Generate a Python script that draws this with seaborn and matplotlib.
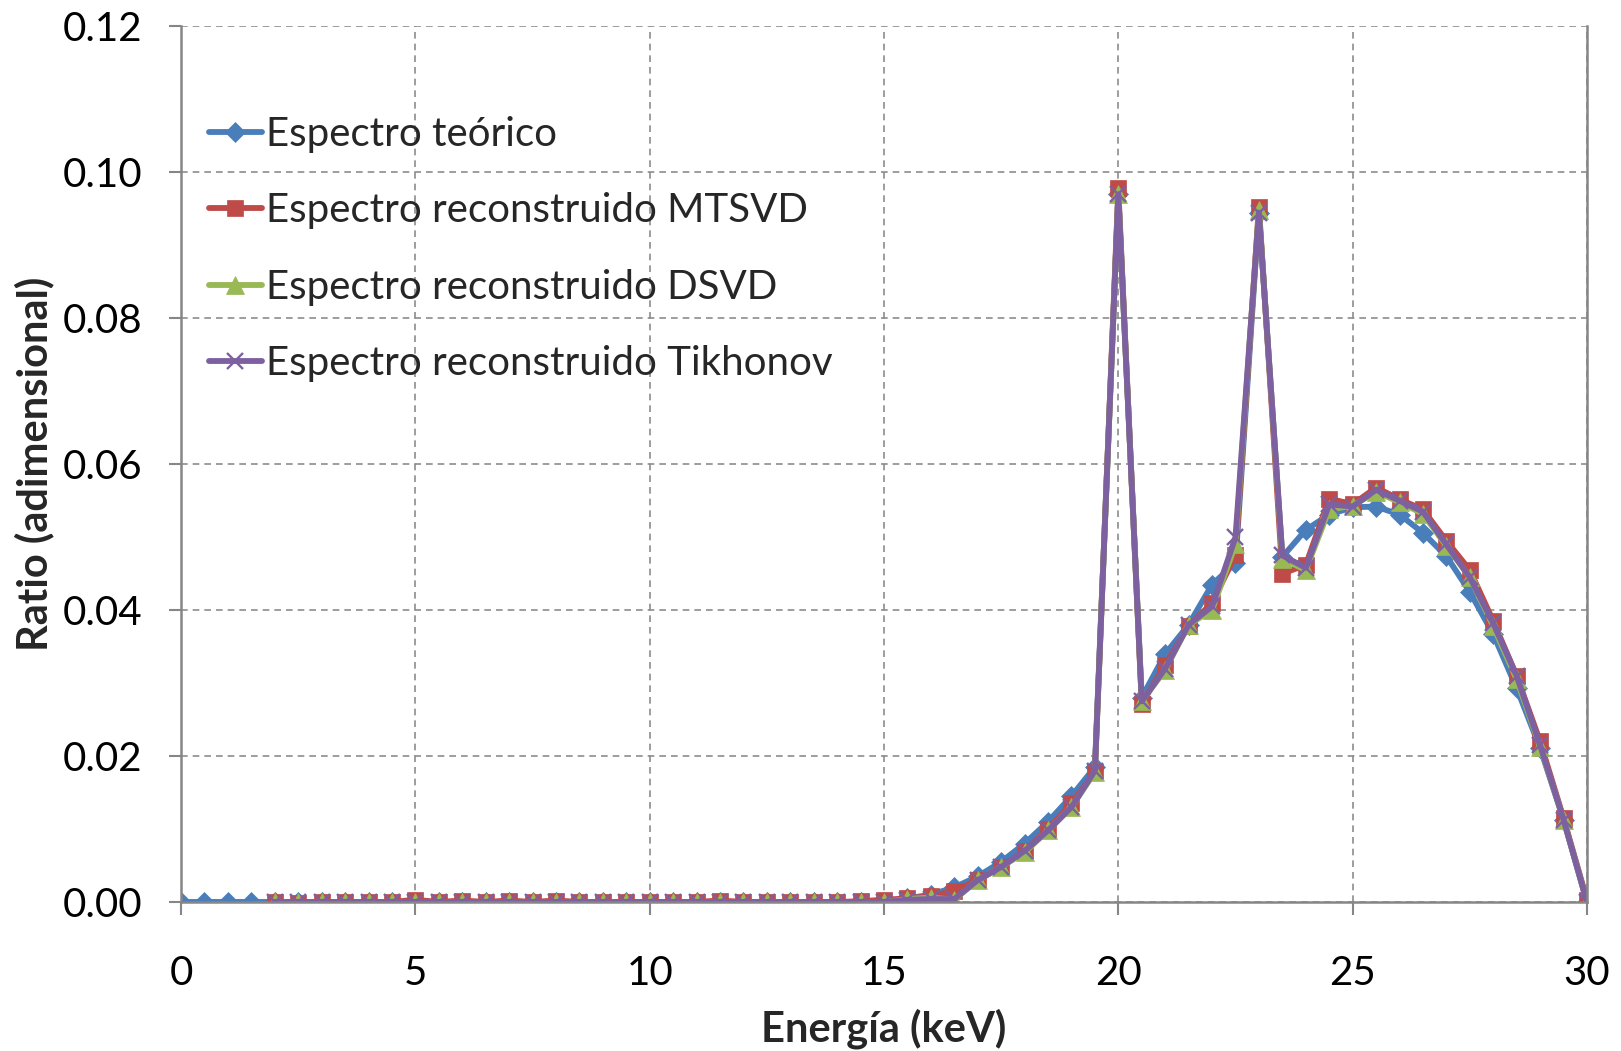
import numpy as np
import pandas as pd
import matplotlib
matplotlib.use("Agg")
import matplotlib.pyplot as plt
import seaborn as sns

# ---- data ----
energy_teo = [i * 0.5 for i in range(61)]
teorico = [0.0] * 31 + [0.0005, 0.001, 0.002, 0.0035, 0.0055, 0.008, 0.011, 0.0145, 0.0185,
                         0.097, 0.028, 0.034, 0.038, 0.0435, 0.0465, 0.0945, 0.0473, 0.051,
                         0.0531, 0.0541, 0.0542, 0.0531, 0.0506, 0.0474, 0.0425, 0.0367,
                         0.0293, 0.0211, 0.0113, 0.0]

energy_rec = [i * 0.5 for i in range(4, 61)]
# x = 2.0 ... 15.0 (27 values)
mtsvd_low = [0.0, -0.0002, 0.0, 0.0, 0.0, 0.0, 0.0003, 0.0, 0.0002, 0.0, 0.0002, 0.0,
             0.0002, 0.0, 0.0, 0.0, 0.0, 0.0, 0.0, 0.0002, 0.0, 0.0, 0.0, 0.0,
             0.0, 0.0001, 0.0003]
mtsvd = mtsvd_low + [0.0005, 0.0008, 0.0015, 0.003, 0.0048, 0.007, 0.010, 0.0135, 0.0178,
                     0.0978, 0.0272, 0.0325, 0.0378, 0.041, 0.0475, 0.0953, 0.045, 0.0462,
                     0.0553, 0.0545, 0.0568, 0.0552, 0.0538, 0.0495, 0.0455, 0.0385, 0.031,
                     0.022, 0.0115, 0.0003]
dsvd = [0.0] * 27 + [0.0004, 0.0006, 0.0003, 0.003, 0.0048, 0.0068, 0.0098, 0.013, 0.0178,
                     0.097, 0.0275, 0.0318, 0.038, 0.040, 0.049, 0.0948, 0.047, 0.0455,
                     0.0538, 0.0543, 0.0562, 0.0548, 0.0532, 0.0488, 0.0445, 0.0378, 0.0305,
                     0.0213, 0.0113, 0.0]
tikhonov = [0.0] * 27 + [0.0003, 0.0004, 0.0004, 0.003, 0.0048, 0.007, 0.0098, 0.013, 0.018,
                         0.097, 0.0275, 0.032, 0.038, 0.0405, 0.050, 0.0945, 0.0475, 0.0458,
                         0.0545, 0.0542, 0.0565, 0.055, 0.0535, 0.049, 0.0445, 0.0382, 0.031,
                         0.0215, 0.0113, 0.0]

labels = ["Espectro teórico", "Espectro reconstruido MTSVD",
          "Espectro reconstruido DSVD", "Espectro reconstruido Tikhonov"]
xticks = [0, 5, 10, 15, 20, 25, 30]
yticks = [0.00, 0.02, 0.04, 0.06, 0.08, 0.10, 0.12]

df = pd.concat([
    pd.DataFrame({"E": energy_teo, "R": teorico, "serie": labels[0]}),
    pd.DataFrame({"E": energy_rec, "R": mtsvd, "serie": labels[1]}),
    pd.DataFrame({"E": energy_rec, "R": dsvd, "serie": labels[2]}),
    pd.DataFrame({"E": energy_rec, "R": tikhonov, "serie": labels[3]}),
])

sns.set_theme(style="white")
plt.rcParams['font.family'] = ['Lato', 'DejaVu Sans']

colors = ["#4A7EBB", "#BE4B48", "#98B954", "#7D60A0"]
markers = ["D", "s", "^", "x"]
msizes = [10.5, 12, 13, 12]

fig = plt.figure(figsize=(16.21, 10.51), dpi=100)
ax = fig.add_axes([0.1117, 0.1418, 0.979 - 0.1117, 0.9748 - 0.1418])

for lab, c, m, ms in zip(labels, colors, markers, msizes):
    sub = df[df["serie"] == lab]
    sns.lineplot(data=sub, x="E", y="R", ax=ax, color=c, linewidth=4.2,
                 marker=m, markersize=ms, markeredgecolor=c,
                 markeredgewidth=1.7 if m == "x" else 0.5, label=lab,
                 estimator=None, sort=False)

ax.set_xlim(0, 30)
ax.set_ylim(0, 0.12)
ax.set_xticks(xticks)
ax.set_yticks(yticks)
ax.set_xticklabels([str(t) for t in xticks])
ax.set_yticklabels([f"{t:.2f}" for t in yticks])
ax.tick_params(axis="both", labelsize=29, colors="#868686", labelcolor="black",
               direction="out", length=9, width=1.5, left=True, bottom=True)
ax.tick_params(axis="y", pad=19)
ax.tick_params(axis="x", pad=29)
ax.grid(True, color="#8C8C8C", linestyle=(0, (4, 3)), linewidth=1.2)
for s in ["left", "bottom", "right"]:
    ax.spines[s].set_color("#868686")
    ax.spines[s].set_linewidth(1.8)
ax.spines["top"].set_visible(False)

ax.set_xlabel("Energía (keV)", fontsize=30, fontweight="bold", labelpad=12)
ax.set_ylabel("Ratio (adimensional)", fontsize=30, fontweight="bold", labelpad=6)

leg = ax.legend(loc="upper left", bbox_to_anchor=(0.0, 0.93), frameon=False,
                fontsize=29, handlelength=1.3, handletextpad=0.1, labelspacing=0.98,
                borderaxespad=0.3)

fig.savefig("out.png", dpi=100)
